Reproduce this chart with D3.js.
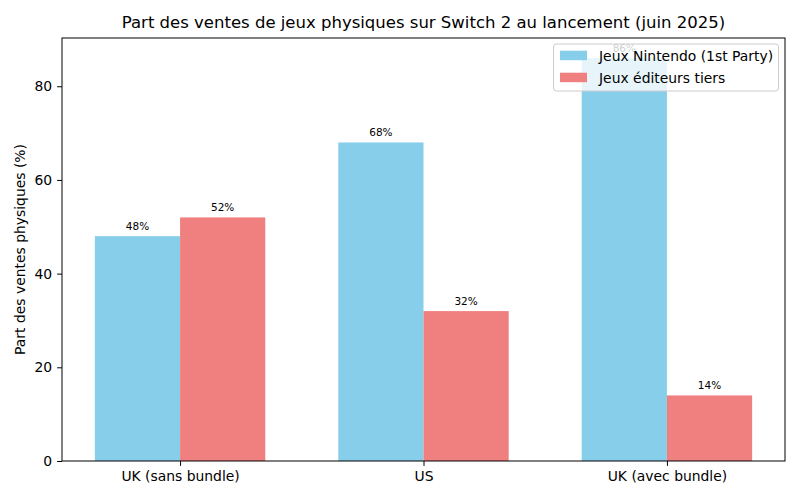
<!DOCTYPE html>
<html>
<head>
<meta charset="utf-8">
<script src="https://cdn.jsdelivr.net/npm/d3@7"></script>
<style>
  body { margin: 0; background: #fff; }
  text { font-family: "DejaVu Sans", sans-serif; }
</style>
</head>
<body>
<div id="chart"></div>
<script>
const regions = ["UK (sans bundle)", "US", "UK (avec bundle)"]
const nintendo = [48, 68, 86]
const tiers = [52, 32, 14]
const seriesNames = ["Jeux Nintendo (1st Party)", "Jeux éditeurs tiers"]
const yTicks = [0, 20, 40, 60, 80]

const palette = ['#87ceeb', '#f08080']

const width = 800, height = 500
const margin = {left: 62, right: 15, top: 38, bottom: 39}

const svg = d3.select("#chart").append("svg")
  .attr("width", width)
  .attr("height", height)

const x = d3.scaleLinear()
  .domain([-0.485, regions.length - 1 + 0.485])
  .range([margin.left, width - margin.right])

const y = d3.scaleLinear()
  .domain([0, 86 * 1.05])
  .range([height - margin.bottom, margin.top])

const barW = 0.35
const series = [nintendo, tiers]

series.forEach((vals, s) => {
  const off = s === 0 ? -barW / 2 : barW / 2
  svg.append("g").selectAll("rect")
    .data(vals)
    .enter()
    .append("rect")
    .attr("x", (d, i) => x(i + off - barW / 2))
    .attr("width", x(barW) - x(0))
    .attr("y", d => y(d))
    .attr("height", d => y(0) - y(d))
    .attr("fill", palette[s])

  svg.append("g").selectAll("text")
    .data(vals)
    .enter()
    .append("text")
    .attr("x", (d, i) => x(i + off))
    .attr("y", d => y(d) - 6)
    .attr("text-anchor", "middle")
    .attr("font-size", "10.5px")
    .text(d => d + "%")
})

// axes
const yAxis = svg.append("g")
  .attr("transform", "translate(" + margin.left + ",0)")
  .call(d3.axisLeft(y).tickValues(yTicks).tickSize(4.9).tickPadding(4.9))
yAxis.selectAll("text").attr("font-size", "13.9px").attr("font-family", "DejaVu Sans").attr("fill", "#000")
yAxis.select(".domain").remove()

const xAxis = svg.append("g")
  .attr("transform", "translate(0," + y(0) + ")")
  .call(d3.axisBottom(x).tickValues(d3.range(regions.length)).tickFormat(i => regions[i]).tickSize(4.9).tickPadding(4.9))
xAxis.selectAll("text").attr("font-size", "13.9px").attr("font-family", "DejaVu Sans").attr("fill", "#000")
xAxis.select(".domain").remove()

// frame
svg.append("rect")
  .attr("x", margin.left)
  .attr("y", margin.top)
  .attr("width", width - margin.left - margin.right)
  .attr("height", height - margin.top - margin.bottom)
  .attr("fill", "none")
  .attr("stroke", "#000")
  .attr("stroke-width", 1)

svg.append("text")
  .attr("x", (margin.left + width - margin.right) / 2)
  .attr("y", 28)
  .attr("text-anchor", "middle")
  .attr("font-size", "16.5px")
  .text("Part des ventes de jeux physiques sur Switch 2 au lancement (juin 2025)")

svg.append("text")
  .attr("transform", "translate(25," + ((margin.top + height - margin.bottom) / 2) + ") rotate(-90)")
  .attr("text-anchor", "middle")
  .attr("font-size", "13.9px")
  .text("Part des ventes physiques (%)")

// legend
const lg = svg.append("g").attr("transform", "translate(553.5,44)")
lg.append("rect")
  .attr("width", 225).attr("height", 47).attr("rx", 3)
  .attr("fill", "#fff").attr("fill-opacity", 0.8)
  .attr("stroke", "#ccc")
seriesNames.forEach((name, i) => {
  lg.append("rect")
    .attr("x", 6.5).attr("y", 6.7 + i * 22)
    .attr("width", 27).attr("height", 9.5)
    .attr("fill", palette[i])
  lg.append("text")
    .attr("x", 45.5).attr("y", 17 + i * 22)
    .attr("font-size", "13.9px")
    .text(name)
})
</script>
</body>
</html>
